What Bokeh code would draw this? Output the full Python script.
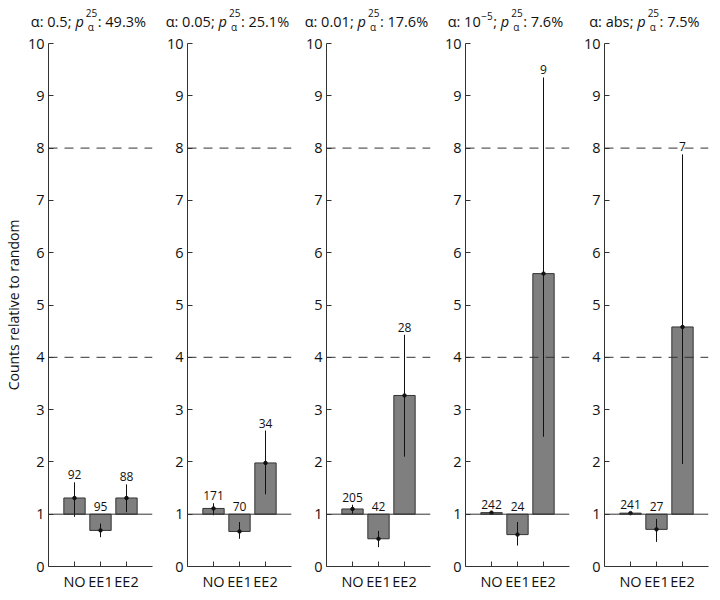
from bokeh.plotting import figure
from bokeh.models import (FactorRange, Range1d, Span, LabelSet, ColumnDataSource,
                          FixedTicker)
from bokeh.layouts import row, column
from bokeh.core.properties import value
from bokeh.embed import file_html
from bokeh.resources import INLINE

# ---------------- data ----------------
categories = ["NO", "EE1", "EE2"]
alpha_base = ["0.5", "0.05", "0.01", "10", "abs"]
alpha_sup = ["", "", "", "\u22125", ""]
p_alpha_pct = [49.3, 25.1, 17.6, 7.6, 7.5]

no_vals = [1.31, 1.11, 1.10, 1.03, 1.02]
no_lo = [0.95, 0.98, 1.01, 1.00, 1.00]
no_hi = [1.61, 1.21, 1.18, 1.05, 1.04]
ee1_vals = [0.69, 0.67, 0.53, 0.61, 0.71]
ee1_lo = [0.56, 0.53, 0.37, 0.40, 0.47]
ee1_hi = [0.82, 0.85, 0.68, 0.85, 0.91]
ee2_vals = [1.31, 1.98, 3.27, 5.60, 4.58]
ee2_lo = [1.04, 1.38, 2.10, 2.48, 1.96]
ee2_hi = [1.57, 2.60, 4.43, 9.35, 7.88]
no_counts = [92, 171, 205, 242, 241]
ee1_counts = [95, 70, 42, 24, 27]
ee2_counts = [88, 34, 28, 9, 7]

y_ticks = list(range(0, 11))
baseline = 1
ref_lines = [4, 8]

# ---------------- style / layout ----------------
FONT = "Open Sans"
INK = "#111111"
FRAME_W = 104
FRAME_H = 523
LEFT0, LEFT, RIGHT = 38, 29, 6
STRIP_H = 33
TOP = 10
BOTTOM = 25

EM = {' ': 0.26, '.': 0.266, ':': 0.266, ';': 0.266, '%': 0.833, 'a': 0.556,
      'b': 0.613, 's': 0.477, 'p': 0.613, '\u03b1': 0.613, '\u2212': 0.572}


def tw(s, size):
    return sum(EM.get(c, 0.572) for c in s) * size


def frame_left(i):
    if i == 0:
        return LEFT0
    return LEFT0 + FRAME_W + RIGHT + (i - 1) * (LEFT + FRAME_W + RIGHT) + LEFT


TOTAL_W = frame_left(4) + FRAME_W + RIGHT

# title pieces for each panel
tx, ty, tt, ts, tst = [], [], [], [], []
MAIN, SMALL = 14.5, 10
BASE_Y = 12
for i in range(5):
    items = []
    x = 0.0
    t = "\u03b1: " + alpha_base[i]
    items.append((t, MAIN, "normal", 0, x)); x += tw(t, MAIN)
    if alpha_sup[i]:
        items.append((alpha_sup[i], SMALL, "normal", 6, x + 0.5))
        x += tw(alpha_sup[i], SMALL) + 1
    t = "; "
    items.append((t, MAIN, "normal", 0, x)); x += tw(t, MAIN)
    items.append(("p", MAIN, "italic", 0, x)); x += tw("p", MAIN) + 1.5
    items.append(("25", SMALL, "normal", 9, x))
    items.append(("\u03b1", SMALL, "normal", -5.5, x + 2))
    x += max(tw("25", SMALL), tw("\u03b1", SMALL)) + 0.5
    t = ": %.1f%%" % p_alpha_pct[i]
    items.append((t, MAIN, "normal", 0, x)); x += tw(t, MAIN)
    start = frame_left(i) + FRAME_W / 2 - x / 2 - 2
    for text, size, style, dy, xx in items:
        tx.append(start + xx)
        ty.append(BASE_Y + dy)
        tt.append(text)
        ts.append("%gpx" % size)
        tst.append(style)

strip = figure(frame_width=TOTAL_W, frame_height=STRIP_H,
               x_range=Range1d(0, TOTAL_W), y_range=Range1d(0, STRIP_H),
               x_axis_type=None, y_axis_type=None,
               output_backend="svg", toolbar_location=None, min_border=0)
strip.grid.visible = False
strip.outline_line_color = None
strip.text(x="x", y="y", text="text", source=ColumnDataSource(
    dict(x=tx, y=ty, text=tt, size=ts, style=tst)),
    text_font=value(FONT), text_font_size="size", text_font_style="style",
    text_color=INK, text_align="left", text_baseline="alphabetic")

figs = []
for i in range(5):
    p = figure(x_range=FactorRange(factors=categories, range_padding=0.5,
                                   range_padding_units="absolute"),
               y_range=Range1d(0, 10),
               frame_width=FRAME_W, frame_height=FRAME_H,
               output_backend="svg", toolbar_location=None,
               min_border=0)
    p.min_border_left = LEFT0 if i == 0 else LEFT
    p.min_border_right = RIGHT
    p.min_border_top = TOP
    p.min_border_bottom = BOTTOM
    p.outline_line_color = None
    p.xgrid.visible = False
    p.ygrid.visible = False

    vals = [no_vals[i], ee1_vals[i], ee2_vals[i]]
    los = [no_lo[i], ee1_lo[i], ee2_lo[i]]
    his = [no_hi[i], ee1_hi[i], ee2_hi[i]]
    cnts = [no_counts[i], ee1_counts[i], ee2_counts[i]]
    src = ColumnDataSource(dict(cat=categories, val=vals, lo=los, hi=his,
                                txt=[str(c) for c in cnts],
                                ly=[max(h, baseline) for h in his]))

    p.vbar(x="cat", top="val", bottom=baseline, width=0.82, source=src,
           fill_color="#7f7f7f", line_color="#333333", line_width=1)
    p.segment(x0="cat", y0="lo", x1="cat", y1="hi", source=src,
              line_color="#111111", line_width=1)
    p.scatter(x="cat", y="val", source=src, size=3.5, color="#111111")

    p.add_layout(Span(location=baseline, dimension="width", line_color="#333333",
                      line_width=1))
    for rl in ref_lines:
        p.add_layout(Span(location=rl, dimension="width", line_color="#333333",
                          line_width=1, line_dash="9 7"))

    p.add_layout(LabelSet(x="cat", y="ly", text="txt", source=src, y_offset=3,
                          text_align="center", text_baseline="alphabetic",
                          text_font=value(FONT), text_font_size="12px",
                          text_color=INK))

    ya = p.yaxis[0]
    ya.ticker = FixedTicker(ticks=y_ticks)
    ya.major_tick_in = 5
    ya.major_tick_out = 0
    ya.minor_tick_line_color = None
    ya.major_label_standoff = 4
    ya.axis_line_color = "#333333"
    ya.major_tick_line_color = "#333333"
    ya.major_label_text_font = FONT
    ya.major_label_text_font_size = "14.5px"
    ya.major_label_text_color = INK
    if i == 0:
        ya.axis_label = "Counts relative to random"
        ya.axis_label_text_font = FONT
        ya.axis_label_text_font_size = "14px"
        ya.axis_label_text_font_style = "normal"
        ya.axis_label_text_color = INK
        ya.axis_label_standoff = 2

    xa = p.xaxis[0]
    xa.major_tick_in = 5
    xa.major_tick_out = 0
    xa.major_label_standoff = 5
    xa.axis_line_color = "#333333"
    xa.major_tick_line_color = "#333333"
    xa.major_label_text_font = FONT
    xa.major_label_text_font_size = "14.5px"
    xa.major_label_text_color = INK
    figs.append(p)

layout = column(strip, row(*figs, spacing=0), spacing=0)
open("out.html", "w").write(file_html(layout, INLINE))
